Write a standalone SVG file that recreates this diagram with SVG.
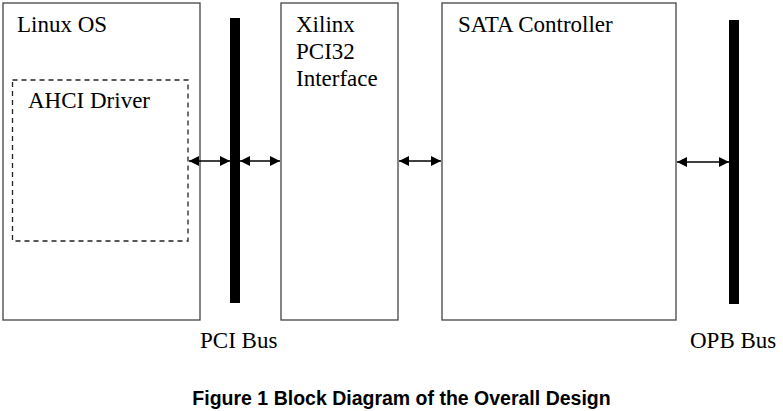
<svg xmlns="http://www.w3.org/2000/svg" width="783" height="411" viewBox="0 0 783 411">
<style>
.box{fill:#fff;stroke:#444;stroke-width:1.3}
.dash{fill:none;stroke:#222;stroke-width:1.3;stroke-dasharray:5,4}
.bus{fill:#000}
.t{font-family:"Liberation Serif","Times New Roman",serif;font-size:23px;fill:#000}
.cap{font-family:"Liberation Sans",Arial,sans-serif;font-size:19.5px;font-weight:bold;fill:#000}
.conn{stroke:#000;stroke-width:1.5;marker-start:url(#ah);marker-end:url(#ah)}
</style>
<defs>
<marker id="ah" viewBox="0 0 10 10" refX="10" refY="5" markerWidth="11" markerHeight="10" markerUnits="userSpaceOnUse" orient="auto-start-reverse">
<path d="M0,0 L10,5 L0,10 Z" fill="#000"/>
</marker>
</defs>
<rect width="783" height="411" fill="#fff"/>
<g id="linux">
<rect class="box" x="3" y="3" width="197" height="317"/>
<text class="t" x="17" y="32">Linux OS</text>
</g>
<g id="ahci">
<rect class="dash" x="12.5" y="80" width="175.5" height="161"/>
<text class="t" x="28" y="108">AHCI Driver</text>
</g>
<g id="pcibus">
<rect class="bus" x="230" y="18" width="10" height="285"/>
<text class="t" x="200" y="348">PCI Bus</text>
</g>
<g id="xilinx">
<rect class="box" x="281" y="3" width="117" height="317"/>
<text class="t" x="296" y="32">Xilinx</text>
<text class="t" x="296" y="59">PCI32</text>
<text class="t" x="296" y="86">Interface</text>
</g>
<g id="sata">
<rect class="box" x="442" y="3" width="234" height="317"/>
<text class="t" x="458" y="32">SATA Controller</text>
</g>
<g id="opbbus">
<rect class="bus" x="729" y="20" width="10" height="284"/>
<text class="t" x="690" y="348">OPB Bus</text>
</g>
<g id="connectors">
<line class="conn" x1="189" y1="161" x2="230" y2="161"/>
<line class="conn" x1="240" y1="161" x2="280" y2="161"/>
<line class="conn" x1="399" y1="161" x2="441" y2="161"/>
<line class="conn" x1="677" y1="162" x2="729" y2="162"/>
</g>
<text class="cap" x="401.5" y="405" text-anchor="middle">Figure 1 Block Diagram of the Overall Design</text>
</svg>
